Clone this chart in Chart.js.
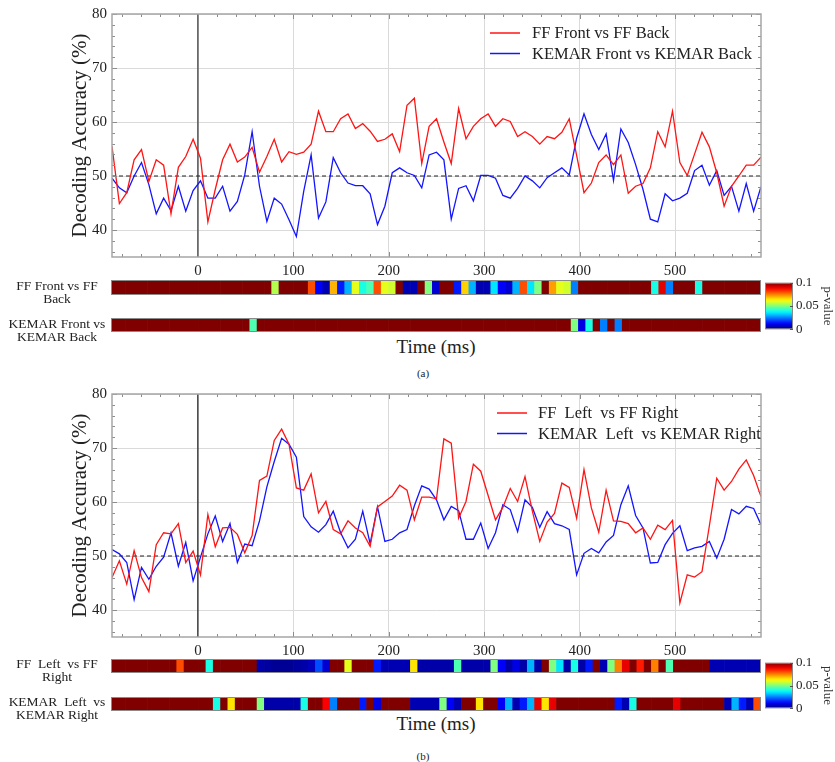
<!DOCTYPE html>
<html>
<head>
<meta charset="utf-8">
<title>Decoding accuracy</title>
<script src="https://cdn.jsdelivr.net/npm/chart.js@4.4.1/dist/chart.umd.min.js"></script>
<style>
    html, body { margin: 0; padding: 0; background: #fff; }
    body {
        position: relative; width: 835px; height: 762px; overflow: hidden;
        font-family: "Liberation Serif", "DejaVu Serif", serif; color: #222;
    }
    .box { position: absolute; }
    .rowlbl {
        position: absolute; width: 110px; left: 2px; text-align: center;
        font-size: 13.5px; line-height: 13px; white-space: pre;
    }
    .xtitle { position: absolute; width: 200px; left: 336px; text-align: center; font-size: 19px; }
    .caption { position: absolute; width: 40px; left: 403px; text-align: center; font-size: 11px; }
</style>
</head>
<body>
<div class="box" style="left:0;top:0;width:835px;height:282px"><canvas id="lineA"></canvas></div>
<div class="box" style="left:111px;top:280px;width:650px;height:15px"><canvas id="stripA1"></canvas></div>
<div class="box" style="left:111px;top:318px;width:650px;height:14px"><canvas id="stripA2"></canvas></div>
<div class="box" style="left:760px;top:272px;width:75px;height:68px"><canvas id="barA"></canvas></div>
<div class="rowlbl" style="top:279px">FF Front vs FF
Back</div>
<div class="rowlbl" style="top:317px">KEMAR Front vs
KEMAR Back</div>
<div class="xtitle" style="top:336px">Time (ms)</div>
<div class="caption" style="top:367px">(a)</div>

<div class="box" style="left:0;top:380px;width:835px;height:282px"><canvas id="lineB"></canvas></div>
<div class="box" style="left:111px;top:659px;width:650px;height:14px"><canvas id="stripB1"></canvas></div>
<div class="box" style="left:111px;top:697px;width:650px;height:14px"><canvas id="stripB2"></canvas></div>
<div class="box" style="left:760px;top:652px;width:75px;height:67px"><canvas id="barB"></canvas></div>
<div class="rowlbl" style="top:657px">FF  Left  vs FF
Right</div>
<div class="rowlbl" style="top:695px">KEMAR  Left  vs
KEMAR Right</div>
<div class="xtitle" style="top:713px">Time (ms)</div>
<div class="caption" style="top:750px">(b)</div>

<script>
// ---- data ----
const xTicks = [0, 100, 200, 300, 400, 500];
const yTicks = [40, 50, 60, 70, 80];
const pTicks = [0, 0.05, 0.1];

// sample times (ms), 89 samples from -90 to 590
const times = [];
for (let i = 0; i < 89; i++) times.push(-90 + i * 680 / 88);

// (a) front vs back, decoding accuracy (%)
const ffFrontBack = [
    55.5, 44.9, 46.9, 53.0, 54.9, 49.0, 53.0, 52.0, 43.0, 51.6,
    53.6, 56.8, 53.3, 41.5, 47.5, 53.0, 55.9, 52.6, 53.5, 55.3,
    50.7, 53.6, 56.8, 52.6, 54.5, 54.0, 54.4, 55.9, 62.0, 58.2,
    58.2, 60.6, 61.5, 58.8, 59.7, 58.3, 56.4, 56.8, 57.8, 54.5,
    63.1, 64.4, 52.3, 59.2, 60.6, 56.3, 52.3, 62.5, 56.9, 59.2,
    60.6, 61.5, 59.2, 60.6, 60.1, 57.3, 58.2, 57.3, 55.9, 57.3,
    56.9, 58.1, 60.6, 53.8, 46.9, 48.7, 52.5, 53.9, 52.1, 53.9,
    46.8, 48.1, 48.6, 51.5, 58.2, 55.4, 62.0, 52.5, 50.1, 54.1,
    58.1, 55.4, 50.6, 44.4, 48.1, 50.0, 52.0, 52.0, 53.5
];
const kemarFrontBack = [
    49.6, 47.8, 46.9, 50.0, 52.5, 48.4, 43.0, 45.9, 43.6, 48.1,
    43.5, 47.3, 49.1, 45.9, 45.9, 48.1, 43.5, 45.3, 50.2, 58.2,
    48.1, 41.6, 45.9, 44.8, 41.9, 38.8, 47.2, 53.9, 42.2, 45.2,
    53.4, 50.6, 48.7, 48.2, 48.2, 46.7, 41.0, 44.4, 50.6, 51.5,
    50.6, 50.1, 47.8, 53.9, 54.4, 53.0, 42.0, 47.7, 48.2, 45.4,
    50.1, 50.1, 49.6, 46.4, 45.9, 47.7, 50.0, 49.1, 47.8, 49.7,
    50.6, 51.5, 50.2, 57.0, 61.5, 57.7, 54.9, 57.8, 49.2, 58.7,
    56.2, 52.1, 47.5, 42.0, 41.5, 46.7, 45.4, 45.9, 46.8, 51.0,
    52.0, 48.3, 51.0, 46.4, 48.1, 43.5, 48.6, 43.5, 48.0
];

// (b) left vs right, decoding accuracy (%)
const ffLeftRight = [
    46.0, 49.1, 44.8, 51.0, 46.0, 43.4, 52.1, 54.3, 54.1, 56.0,
    48.8, 50.9, 46.5, 57.7, 51.7, 55.2, 55.3, 54.0, 50.6, 53.8,
    64.0, 64.8, 71.4, 73.5, 70.7, 62.6, 62.2, 65.2, 58.0, 60.1,
    54.9, 54.1, 56.5, 55.2, 54.3, 51.8, 59.1, 60.1, 61.1, 63.1,
    62.2, 56.7, 60.9, 60.9, 60.6, 71.7, 70.9, 57.0, 60.1, 67.0,
    65.7, 61.2, 56.7, 59.0, 62.5, 60.1, 64.7, 58.3, 52.7, 56.3,
    57.9, 63.5, 62.7, 57.0, 66.0, 58.9, 54.4, 62.2, 56.5, 56.4,
    56.0, 54.3, 55.2, 53.1, 55.7, 54.9, 56.6, 41.3, 46.5, 46.1,
    47.1, 55.6, 64.4, 62.2, 63.8, 66.1, 67.8, 64.9, 61.0
];
const kemarLeftRight = [
    51.2, 50.4, 48.8, 41.9, 47.9, 45.7, 48.1, 49.8, 54.3, 48.1,
    52.5, 45.4, 49.8, 54.1, 57.4, 52.7, 56.0, 48.8, 52.2, 51.9,
    56.5, 62.8, 67.5, 71.8, 70.7, 68.3, 57.3, 55.4, 54.4, 55.8,
    58.3, 54.3, 51.5, 53.1, 58.3, 52.3, 59.1, 52.7, 53.1, 54.3,
    54.9, 59.3, 63.0, 62.4, 60.4, 56.7, 59.2, 58.4, 53.1, 53.1,
    56.1, 51.4, 54.3, 59.5, 58.6, 54.5, 60.4, 59.0, 55.3, 58.2,
    56.0, 55.6, 54.9, 46.5, 50.5, 51.4, 50.6, 52.6, 53.8, 59.5,
    63.0, 57.5, 55.2, 48.7, 48.8, 52.1, 54.2, 55.6, 51.0, 51.5,
    51.8, 52.7, 49.6, 53.1, 58.6, 57.8, 59.2, 58.8, 55.8
];

// p-values per time bin (0.1 = not significant, shown dark red)
const pFrontBackFF = [
    0.1, 0.1, 0.1, 0.1, 0.1, 0.1, 0.1, 0.1, 0.1, 0.1,
    0.1, 0.1, 0.1, 0.1, 0.1, 0.1, 0.1, 0.1, 0.1, 0.1,
    0.1, 0.1, 0.055, 0.1, 0.1, 0.1, 0.1, 0.08, 0.012, 0.005,
    0.07, 0.015, 0.03, 0.06, 0.04, 0.045, 0.08, 0.06, 0.058, 0.1,
    0.005, 0.005, 0.1, 0.05, 0.008, 0.1, 0.1, 0.015, 0.067, 0.03,
    0.005, 0.005, 0.035, 0.012, 0.008, 0.03, 0.08, 0.035, 0.05, 0.1,
    0.072, 0.06, 0.058, 0.025, 0.1, 0.1, 0.1, 0.1, 0.1, 0.1,
    0.1, 0.1, 0.1, 0.1, 0.04, 0.09, 0.025, 0.1, 0.1, 0.1,
    0.04, 0.1, 0.1, 0.1, 0.1, 0.1, 0.1, 0.1, 0.1
];
const pFrontBackKEMAR = [
    0.1, 0.1, 0.1, 0.1, 0.1, 0.1, 0.1, 0.1, 0.1, 0.1,
    0.1, 0.1, 0.1, 0.1, 0.1, 0.1, 0.1, 0.1, 0.1, 0.045,
    0.1, 0.1, 0.1, 0.1, 0.1, 0.1, 0.1, 0.1, 0.1, 0.1,
    0.1, 0.1, 0.1, 0.1, 0.1, 0.1, 0.1, 0.1, 0.1, 0.1,
    0.1, 0.1, 0.1, 0.1, 0.1, 0.1, 0.1, 0.1, 0.1, 0.1,
    0.1, 0.1, 0.1, 0.1, 0.1, 0.1, 0.1, 0.1, 0.1, 0.1,
    0.1, 0.1, 0.1, 0.05, 0.01, 0.04, 0.1, 0.025, 0.1, 0.025,
    0.1, 0.1, 0.1, 0.1, 0.1, 0.1, 0.1, 0.1, 0.1, 0.1,
    0.1, 0.1, 0.1, 0.1, 0.1, 0.1, 0.1, 0.1, 0.1
];
const pLeftRightFF = [
    0.1, 0.1, 0.1, 0.1, 0.1, 0.1, 0.1, 0.1, 0.1, 0.08,
    0.1, 0.1, 0.1, 0.04, 0.1, 0.1, 0.1, 0.1, 0.1, 0.1,
    0.004, 0.003, 0.002, 0.002, 0.002, 0.003, 0.004, 0.006, 0.02, 0.008,
    0.1, 0.1, 0.06, 0.1, 0.1, 0.1, 0.015, 0.005, 0.005, 0.005,
    0.005, 0.065, 0.004, 0.004, 0.004, 0.004, 0.004, 0.045, 0.004, 0.004,
    0.004, 0.004, 0.05, 0.012, 0.004, 0.01, 0.004, 0.03, 0.004, 0.1,
    0.05, 0.035, 0.004, 0.04, 0.004, 0.015, 0.1, 0.005, 0.05, 0.075,
    0.09, 0.1, 0.085, 0.1, 0.075, 0.1, 0.045, 0.1, 0.1, 0.1,
    0.1, 0.1, 0.005, 0.005, 0.005, 0.005, 0.005, 0.005, 0.005
];
const pLeftRightKEMAR = [
    0.1, 0.1, 0.1, 0.1, 0.1, 0.1, 0.1, 0.1, 0.1, 0.1,
    0.1, 0.1, 0.1, 0.1, 0.04, 0.1, 0.065, 0.1, 0.1, 0.1,
    0.05, 0.004, 0.004, 0.004, 0.004, 0.004, 0.04, 0.1, 0.1, 0.088,
    0.025, 0.1, 0.1, 0.1, 0.015, 0.1, 0.01, 0.1, 0.1, 0.1,
    0.1, 0.005, 0.005, 0.005, 0.005, 0.05, 0.012, 0.005, 0.1, 0.1,
    0.065, 0.1, 0.1, 0.012, 0.03, 0.005, 0.015, 0.03, 0.09, 0.065,
    0.09, 0.1, 0.1, 0.1, 0.1, 0.1, 0.1, 0.1, 0.1, 0.015,
    0.005, 0.04, 0.1, 0.1, 0.1, 0.1, 0.1, 0.09, 0.1, 0.1,
    0.1, 0.1, 0.1, 0.1, 0.005, 0.03, 0.015, 0.005, 0.08
];

// ---- helpers ----
const FONT = '"Liberation Serif", "DejaVu Serif", serif';
Chart.defaults.font.family = FONT;
Chart.defaults.color = '#222';
Chart.defaults.animation = false;

function clamp01(v) { return Math.max(0, Math.min(1, v)); }

// jet colormap, p in [0, 0.1]
function jet(p) {
    const t = clamp01(p / 0.1);
    const r = clamp01(1.5 - Math.abs(4 * t - 3));
    const g = clamp01(1.5 - Math.abs(4 * t - 2));
    const b = clamp01(1.5 - Math.abs(4 * t - 1));
    return `rgb(${Math.round(r * 255)}, ${Math.round(g * 255)}, ${Math.round(b * 255)})`;
}

function toXY(values) {
    return values.map((v, i) => ({ x: times[i], y: v }));
}

// frame with minor ticks around the accuracy plot
const framePlugin = {
    id: 'frame',
    afterDatasetsDraw(chart) {
        const { ctx, chartArea: a, scales } = chart;
        const x = scales.x, y = scales.y;
        ctx.save();
        ctx.strokeStyle = '#8c8c8c';
        ctx.lineWidth = 1;
        ctx.beginPath();
        for (let v = -80; v <= 580; v += 20) {
            const px = Math.round(x.getPixelForValue(v)) + 0.5;
            const len = v % 100 === 0 ? 5 : 3;
            ctx.moveTo(px, a.bottom); ctx.lineTo(px, a.bottom - len);
            ctx.moveTo(px, a.top); ctx.lineTo(px, a.top + len);
        }
        for (let v = 36; v <= 80; v += 2) {
            const py = Math.round(y.getPixelForValue(v)) + 0.5;
            const len = v % 10 === 0 ? 5 : 3;
            ctx.moveTo(a.left, py); ctx.lineTo(a.left + len, py);
            ctx.moveTo(a.right, py); ctx.lineTo(a.right - len, py);
        }
        ctx.stroke();
        ctx.strokeStyle = '#a6a6a6';
        ctx.lineWidth = 1.5;
        ctx.strokeRect(a.left, a.top, a.width, a.height);
        ctx.restore();
    }
};

// legend drawn inside the plot area
const inlineLegend = {
    id: 'inlineLegend',
    afterDraw(chart, args, opts) {
        if (!opts.items) return;
        const ctx = chart.ctx;
        ctx.save();
        ctx.font = `${opts.size}px ${FONT}`;
        ctx.textBaseline = 'middle';
        opts.items.forEach((it, k) => {
            const yy = opts.y + k * opts.gap;
            ctx.strokeStyle = it.color;
            ctx.lineWidth = 1.5;
            ctx.beginPath();
            ctx.moveTo(opts.x, yy); ctx.lineTo(opts.x + 30, yy);
            ctx.stroke();
            ctx.fillStyle = '#222';
            ctx.fillText(it.text, opts.textX, yy + 1);
        });
        ctx.restore();
    }
};

// thin border around strips and colour bars, optional ticks on the right
const boxPlugin = {
    id: 'box',
    afterDatasetsDraw(chart) {
        const { ctx, chartArea: a } = chart;
        ctx.save();
        ctx.strokeStyle = '#8a8a8a';
        ctx.lineWidth = 1;
        ctx.strokeRect(a.left + 0.5, a.top + 0.5, a.width - 1, a.height - 1);
        const y = chart.scales.y;
        if (y && y.options.position === 'right') {
            ctx.strokeStyle = '#555';
            ctx.beginPath();
            pTicks.forEach(v => {
                const py = Math.round(y.getPixelForValue(v)) + 0.5;
                ctx.moveTo(a.right, py); ctx.lineTo(a.right - 3, py);
            });
            ctx.stroke();
        }
        ctx.restore();
    }
};

function makeLineChart(id, red, blue, names, opts) {
    return new Chart(document.getElementById(id), {
        type: 'line',
        data: {
            datasets: [
                { label: names[0], data: toXY(red), borderColor: '#ff1414', borderWidth: 1.3, pointRadius: 0, tension: 0 },
                { label: names[1], data: toXY(blue), borderColor: '#1414ff', borderWidth: 1.3, pointRadius: 0, tension: 0 },
                { label: 'chance', data: [{ x: -90, y: 50 }, { x: 590, y: 50 }], borderColor: '#222', borderWidth: 1.1, borderDash: [4, 3], pointRadius: 0 },
                { label: 'onset', data: [{ x: 0, y: 35 }, { x: 0, y: 80 }], borderColor: opts.onsetColor, borderWidth: opts.onsetWidth, pointRadius: 0 }
            ]
        },
        options: {
            responsive: true,
            maintainAspectRatio: false,
            layout: { padding: { left: 60, top: opts.top, right: 74, bottom: 0 } },
            scales: {
                x: {
                    type: 'linear', min: -90, max: 590,
                    afterBuildTicks: s => { s.ticks = xTicks.map(v => ({ value: v })); },
                    afterFit: s => { s.height = 25; },
                    grid: { color: '#dadada', lineWidth: 1, drawTicks: false },
                    border: { display: false },
                    ticks: { font: { size: 15 }, color: '#222', padding: 5, maxRotation: 0 }
                },
                y: {
                    min: 35, max: 80,
                    afterBuildTicks: s => { s.ticks = yTicks.map(v => ({ value: v })); },
                    afterFit: s => { s.width = 52; },
                    grid: { color: '#dadada', lineWidth: 1, drawTicks: false },
                    border: { display: false },
                    ticks: { font: { size: 15 }, color: '#222', padding: 5 },
                    title: { display: true, text: 'Decoding Accuracy (%)', font: { size: 21 }, color: '#222', padding: { top: 8, bottom: 0 } }
                }
            },
            plugins: {
                legend: { display: false },
                tooltip: { enabled: false },
                inlineLegend: {
                    items: [{ text: names[0], color: '#ff1414' }, { text: names[1], color: '#1414ff' }],
                    x: opts.legendX, textX: opts.legendTextX, y: opts.legendY, gap: 20.5, size: 16.5
                }
            }
        },
        plugins: [framePlugin, inlineLegend]
    });
}

function makeStrip(id, pvals) {
    return new Chart(document.getElementById(id), {
        type: 'bar',
        data: {
            labels: times.map(t => t.toFixed(1)),
            datasets: [{
                data: pvals.map(() => 1),
                backgroundColor: pvals.map(jet),
                borderWidth: 0,
                barPercentage: 1,
                categoryPercentage: 1
            }]
        },
        options: {
            responsive: true,
            maintainAspectRatio: false,
            layout: { padding: 0 },
            scales: {
                x: { type: 'category', display: false, offset: true },
                y: { display: false, min: 0, max: 1 }
            },
            plugins: { legend: { display: false }, tooltip: { enabled: false } }
        },
        plugins: [boxPlugin]
    });
}

function makeColorBar(id) {
    return new Chart(document.getElementById(id), {
        type: 'bar',
        data: {
            labels: ['p'],
            datasets: [{
                data: [0.1],
                borderWidth: 0,
                barPercentage: 1,
                categoryPercentage: 1,
                backgroundColor: c => {
                    const a = c.chart.chartArea;
                    if (!a) return '#800000';
                    const g = c.chart.ctx.createLinearGradient(0, a.bottom, 0, a.top);
                    for (let k = 0; k <= 20; k++) g.addColorStop(k / 20, jet(0.1 * k / 20));
                    return g;
                }
            }]
        },
        options: {
            responsive: true,
            maintainAspectRatio: false,
            layout: { padding: { left: 5, top: 7, right: 0, bottom: 8 } },
            scales: {
                x: { display: false, offset: true },
                y: {
                    position: 'right', min: 0, max: 0.1,
                    afterBuildTicks: s => { s.ticks = pTicks.map(v => ({ value: v })); },
                    afterFit: s => { s.width = 42; },
                    grid: { display: false, drawTicks: false },
                    border: { display: false },
                    ticks: { font: { size: 13 }, color: '#222', padding: 3, callback: v => String(v) },
                    title: { display: true, text: 'p-value', font: { size: 13 }, color: '#333', padding: 0 }
                }
            },
            plugins: { legend: { display: false }, tooltip: { enabled: false } }
        },
        plugins: [boxPlugin]
    });
}

makeLineChart('lineA', ffFrontBack, kemarFrontBack,
    ['FF Front vs FF Back', 'KEMAR Front vs KEMAR Back'],
    { top: 14, onsetColor: '#6a6a6a', onsetWidth: 1.8, legendX: 490, legendTextX: 532, legendY: 33 });
makeStrip('stripA1', pFrontBackFF);
makeStrip('stripA2', pFrontBackKEMAR);
makeColorBar('barA');

makeLineChart('lineB', ffLeftRight, kemarLeftRight,
    ['FF  Left  vs FF Right', 'KEMAR  Left  vs KEMAR Right'],
    { top: 13, onsetColor: '#222', onsetWidth: 1.3, legendX: 497, legendTextX: 538, legendY: 33 });
makeStrip('stripB1', pLeftRightFF);
makeStrip('stripB2', pLeftRightKEMAR);
makeColorBar('barB');
</script>
</body>
</html>
